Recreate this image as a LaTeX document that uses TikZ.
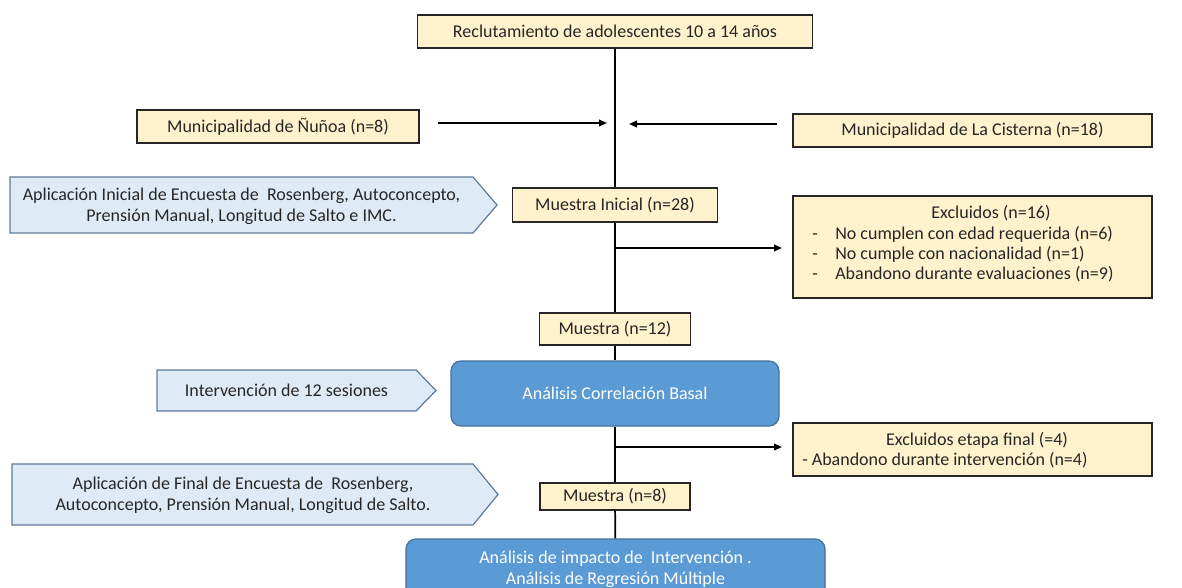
\documentclass[tikz,border=0pt]{standalone}
\usepackage{fontspec}
\setmainfont{Carlito}
\usetikzlibrary{arrows.meta}
\definecolor{beige}{HTML}{FFF2CC}
\definecolor{paleblue}{HTML}{DEEBF7}
\definecolor{midblue}{HTML}{5B9BD5}
\definecolor{edgeblue}{HTML}{41719C}
\definecolor{chevedge}{HTML}{5F7A96}
\definecolor{ink}{HTML}{262626}
\begin{document}
\begin{tikzpicture}[x=0.75pt,y=-0.75pt,
  txt/.style={font=\fontsize{13.5}{15.75}\selectfont, text=ink, inner sep=0pt},
  beigebox/.style={draw=ink, fill=beige, line width=0.9pt, inner sep=0pt,
    font=\fontsize{13.5}{15.75}\selectfont, text=ink},
  bluebox/.style={draw=edgeblue, fill=midblue, rounded corners=7.5pt, line width=0.9pt,
    inner sep=0pt, font=\fontsize{13.5}{15.75}\selectfont, text=white, align=center},
  chev/.style={draw=chevedge, fill=paleblue, line width=0.9pt, line join=miter},
  flow/.style={draw=black, line width=1.3pt},
  arr/.style={flow, -{Triangle[length=6pt,width=5pt]}}]

\useasboundingbox (0,0) rectangle (1182,588);
\clip (0,0) rectangle (1182,588);
\fill[white] (0,0) rectangle (1182,588);

% main column
\node[beigebox, minimum width=296.25pt, minimum height=24.75pt] (recl) at (615,31.5)
  {Reclutamiento de adolescentes 10 a 14 años};
\node[beigebox, minimum width=153.75pt, minimum height=25.5pt] (mi) at (615,205)
  {Muestra Inicial (n=28)};
\node[beigebox, minimum width=113.25pt, minimum height=24pt] (m12) at (615,329)
  {Muestra (n=12)};
\node[bluebox, minimum width=246pt, minimum height=48.75pt] (corr) at (615,393.5)
  {Análisis Correlación Basal};
\node[beigebox, minimum width=112.5pt, minimum height=20.25pt] (m8) at (615,496.5)
  {Muestra (n=8)};
\node[bluebox, minimum width=314.25pt, minimum height=45.75pt] (fin) at (615.5,569.5)
  {Análisis de impacto de\ \ Intervención .\\Análisis de Regresión Múltiple};

% sources
\node[beigebox, minimum width=211.5pt, minimum height=24.75pt] (nun) at (278,126.5)
  {Municipalidad de Ñuñoa (n=8)};
\node[beigebox, minimum width=269.25pt, minimum height=24.75pt] (cis) at (972.5,130.5)
  {Municipalidad de La Cisterna (n=18)};

% exclusions
\node[beigebox, minimum width=269.25pt, minimum height=76.5pt] (exc) at (972.5,247) {};
\node[txt] (exct) at (991,213) {Excluidos (n=16)};
\node[txt, anchor=west] (e1) at (812,234) {\makebox[17.25pt][l]{-}No cumplen con edad requerida (n=6)};
\node[txt, anchor=west] (e2) at (812,254) {\makebox[17.25pt][l]{-}No cumple con nacionalidad (n=1)};
\node[txt, anchor=west] (e3) at (812,274) {\makebox[17.25pt][l]{-}Abandono durante evaluaciones (n=9)};

\node[beigebox, minimum width=269.25pt, minimum height=39.75pt] (exc2) at (972.5,449.5) {};
\node[txt] (exc2t) at (977,440) {Excluidos etapa final (=4)};
\node[txt, anchor=west] (exc2l) at (802,460) {- Abandono durante intervención (n=4)};

% side chevrons
\draw[chev] (10,177) -- (473,177) -- (497,205) -- (473,233) -- (10,233) -- cycle;
\node[txt, align=center] (ch1) at (241.5,206)
  {Aplicación Inicial de Encuesta de\ \ Rosenberg, Autoconcepto,\\Prensión Manual, Longitud de Salto e IMC.};
\draw[chev] (157,370) -- (416,370) -- (436,390.5) -- (416,411) -- (157,411) -- cycle;
\node[txt] (ch2) at (286.5,390.5) {Intervención de 12 sesiones};
\draw[chev] (12,464) -- (473,464) -- (498,494.5) -- (473,525) -- (12,525) -- cycle;
\node[txt, align=center] (ch3) at (243,495.5)
  {Aplicación de Final de Encuesta de\ \ Rosenberg,\\Autoconcepto, Prensión Manual, Longitud de Salto.};

% connectors
\draw[flow] (recl) -- (mi);
\draw[flow] (mi) -- (m12);
\draw[flow] (m12) -- (corr);
\draw[flow] (corr) -- (m8);
\draw[flow] (m8) -- (fin);

\coordinate (nunA) at (438,123);
\coordinate (nunB) at (607,123);
\coordinate (cisA) at (777,124);
\coordinate (cisB) at (629,124);
\draw[arr] (nunA) -- (nunB);
\draw[arr] (cisA) -- (cisB);

\coordinate (b1) at (615,248);
\coordinate (b1e) at (782,248);
\coordinate (b2) at (615,447);
\coordinate (b2e) at (782,447);
\draw[arr] (b1) -- (b1e);
\draw[arr] (b2) -- (b2e);
\end{tikzpicture}
\end{document}
